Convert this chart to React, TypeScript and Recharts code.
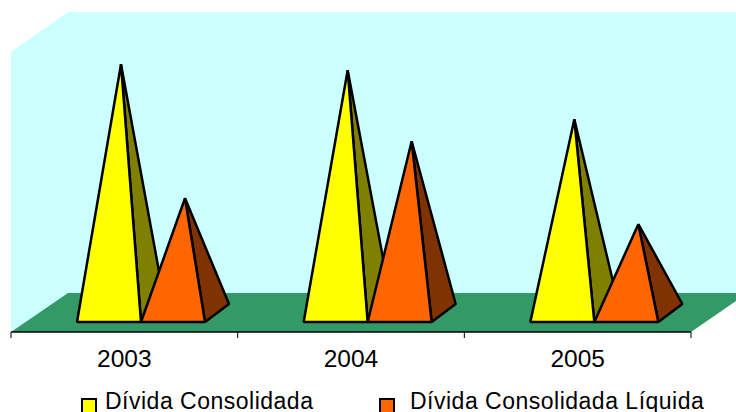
import { BarChart, Bar, XAxis, YAxis, Customized } from 'recharts'

const categories = ['2003', '2004', '2005']
const consolidada = [88.2, 86.1, 68.7]
const liquida = [40.7, 60.9, 31.5]

const seriesNames = ['Dívida Consolidada', 'Dívida Consolidada Líquida']
const fronts = ['#ffff00', '#ff6600']
const sides = ['#808000', '#803300']

const rows = categories.map((year, i) => ({
  year,
  consolidada: consolidada[i],
  liquida: liquida[i],
}))

// floor depth of the 3D box, and how far the pyramids sit from the front edge
const DEPTH_X = 24
const DEPTH_Y = 18
const SHIFT_X = 17

const AXIS_Y = 332
const TICK_LEN = 6

function Walls() {
  return (
    <g>
      <polygon points="11,52 68,12 736,12 736,293 68,293 11,332" fill="#ccffff" />
      <polygon points="11,332 68,293 736,293 736,301 691,332" fill="#339966" />
    </g>
  )
}

function Pyramid({ x, y, width, height, fill, side }: any) {
  const left = x + SHIFT_X
  const right = left + width
  const base = y + height
  const apexX = left + width / 2 + DEPTH_X / 2
  const apexY = y - DEPTH_Y / 2
  return (
    <g stroke="#000" strokeWidth={2.5} strokeLinejoin="bevel">
      <polygon
        points={`${right},${base} ${right + DEPTH_X},${base - DEPTH_Y} ${apexX},${apexY}`}
        fill={side}
      />
      <polygon points={`${left},${base} ${right},${base} ${apexX},${apexY}`} fill={fill} />
    </g>
  )
}

const font = '"Liberation Sans", Arial, sans-serif'

// label in the middle of the band, tick marks on the band's edges
function YearTick({ x, y, payload, index }: any) {
  const half = payload.offset
  const isLast = index === categories.length - 1
  return (
    <g>
      <line x1={x - half} x2={x - half} y1={AXIS_Y} y2={AXIS_Y + TICK_LEN} stroke="#000" />
      {isLast && <line x1={x + half} x2={x + half} y1={AXIS_Y} y2={AXIS_Y + TICK_LEN} stroke="#000" />}
      <text x={x} y={y} dy="0.71em" textAnchor="middle" fontSize={24.5} fill="#000" fontFamily={font}>
        {payload.value}
      </text>
    </g>
  )
}

export default function App() {
  return (
    <div style={{ position: 'absolute', left: 0, top: 0, width: 736, height: 412, overflow: 'hidden' }}>
      <BarChart
        width={736}
        height={412}
        data={rows}
        barSize={64}
        barGap={0}
        margin={{ top: 40, right: 45, bottom: 0, left: 11 }}
      >
        <Customized component={Walls} />
        <YAxis hide domain={[0, 100]} padding={{ top: 0, bottom: 10 }} />
        <XAxis
          dataKey="year"
          height={80}
          axisLine={{ stroke: '#000', strokeWidth: 1.5 }}
          tickLine={false}
          tickMargin={12}
          tick={<YearTick />}
        />
        <Bar
          dataKey="consolidada"
          name={seriesNames[0]}
          fill={fronts[0]}
          isAnimationActive={false}
          shape={(p: any) => <Pyramid {...p} side={sides[0]} />}
        />
        <Bar
          dataKey="liquida"
          name={seriesNames[1]}
          fill={fronts[1]}
          isAnimationActive={false}
          shape={(p: any) => <Pyramid {...p} side={sides[1]} />}
        />
      </BarChart>
      {seriesNames.map((name, i) => (
        <div
          key={name}
          style={{
            position: 'absolute',
            left: i === 0 ? 81 : 379,
            top: 390,
            display: 'flex',
            alignItems: 'flex-start',
            whiteSpace: 'nowrap',
            fontFamily: font,
            fontSize: 23,
            lineHeight: '22px',
            letterSpacing: 0.5,
            color: '#000',
          }}
        >
          <span
            style={{
              width: 12,
              height: 12,
              marginTop: 8,
              marginRight: i === 0 ? 8 : 15,
              background: fronts[i],
              border: '2px solid #000',
              flex: 'none',
            }}
          />
          {name}
        </div>
      ))}
    </div>
  )
}
